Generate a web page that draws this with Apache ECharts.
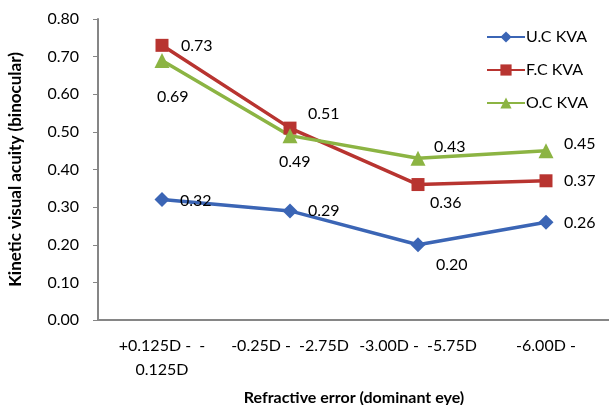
<!DOCTYPE html>
<html><head><meta charset="utf-8">
<script src="https://cdn.jsdelivr.net/npm/echarts@6/dist/echarts.min.js"></script>
<style>html,body{margin:0;padding:0;background:#fff}#c{width:609px;height:405px}</style>
</head><body><div id="c"></div>
<script>
var categories = ['+0.125D -  -\n0.125D', '-0.25D -  -2.75D', '-3.00D -  -5.75D', '-6.00D -'];
var ucKva = [0.32, 0.29, 0.20, 0.26];
var fcKva = [0.73, 0.51, 0.36, 0.37];
var ocKva = [0.69, 0.49, 0.43, 0.45];
var yTicks = {min: 0, max: 0.8, interval: 0.1};

// label offsets [dx from point to label left edge, dy from point to label centre]
var ucLabelPos = [[18, 1], [18, 0], [18, 20], [18, 1]];
var fcLabelPos = [[19, 1], [18, -14], [12, 18], [18, 0]];
var ocLabelPos = [[-5, 36], [-11, 26], [16, -11], [18, -7]];

var font = "Lato, 'Open Sans', sans-serif";

function mk(vals, pos) {
  return vals.map(function (v, i) {
    return {value: v, label: {show: true, position: 'inside', align: 'left', verticalAlign: 'middle', offset: pos[i]}};
  });
}

var chart = echarts.init(document.getElementById('c'), null, {renderer: 'canvas'});
chart.setOption({
  animation: false,
  backgroundColor: '#fff',
  grid: {left: 98, top: 19, width: 512, height: 301, containLabel: false, outerBoundsMode: 'none'},
  legend: {
    orient: 'vertical', left: 481, top: 24, itemGap: 17, itemWidth: 38, itemHeight: 14,
    textStyle: {fontFamily: font, fontSize: 16, color: '#000', padding: [0, 0, 0, -4]},
    data: ['U.C KVA', 'F.C KVA', 'O.C KVA']
  },
  xAxis: {
    type: 'category', data: categories, boundaryGap: true,
    name: 'Refractive error (dominant eye)', nameLocation: 'middle', nameGap: 70,
    nameTextStyle: {fontFamily: font, fontSize: 16, fontWeight: 'bold', color: '#000'},
    axisLine: {lineStyle: {color: '#868686', width: 2}},
    axisTick: {show: false},
    axisLabel: {fontFamily: font, fontSize: 16, color: '#000', margin: 14, lineHeight: 24, interval: 0}
  },
  yAxis: {
    type: 'value', min: yTicks.min, max: yTicks.max, interval: yTicks.interval,
    name: 'Kinetic visual acuity (binocular)', nameLocation: 'middle', nameGap: 74, nameRotate: 90,
    nameTextStyle: {fontFamily: font, fontSize: 17, fontWeight: 'bold', color: '#000'},
    axisLine: {show: true, lineStyle: {color: '#868686', width: 2}},
    axisTick: {show: true, length: 5, lineStyle: {color: '#868686', width: 1}},
    splitLine: {show: false},
    axisLabel: {fontFamily: font, fontSize: 16, color: '#000', margin: 19, formatter: function (v) { return v.toFixed(2); }}
  },
  series: [
    {name: 'U.C KVA', type: 'line', data: mk(ucKva, ucLabelPos), symbol: 'diamond', symbolSize: 15,
     itemStyle: {color: '#3b65b5'}, lineStyle: {width: 3.5, color: '#3b65b5'},
     label: {fontFamily: font, fontSize: 16, color: '#000', formatter: function (p) { return p.value.toFixed(2); }}},
    {name: 'F.C KVA', type: 'line', data: mk(fcKva, fcLabelPos), symbol: 'rect', symbolSize: 13,
     itemStyle: {color: '#b83430'}, lineStyle: {width: 3.5, color: '#b83430'},
     label: {fontFamily: font, fontSize: 16, color: '#000', formatter: function (p) { return p.value.toFixed(2); }}},
    {name: 'O.C KVA', type: 'line', data: mk(ocKva, ocLabelPos), symbol: 'triangle', symbolSize: 15,
     itemStyle: {color: '#8cb443'}, lineStyle: {width: 3.5, color: '#8cb443'},
     label: {fontFamily: font, fontSize: 16, color: '#000', formatter: function (p) { return p.value.toFixed(2); }}}
  ]
});
</script></body></html>
